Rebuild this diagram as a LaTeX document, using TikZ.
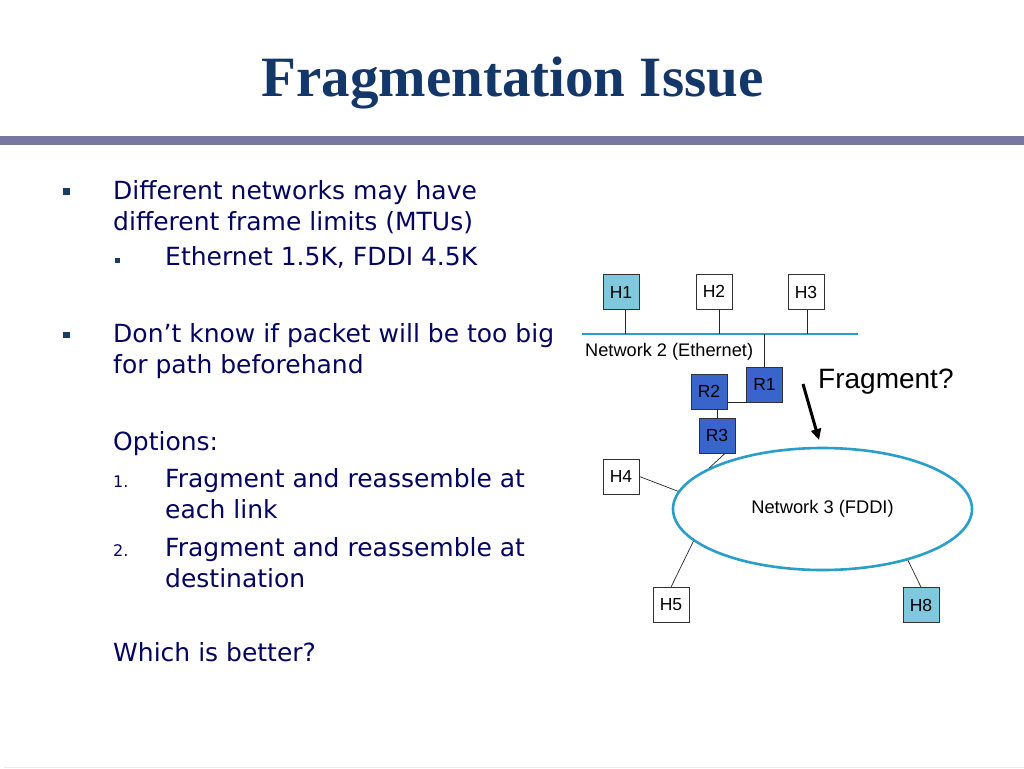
\documentclass[tikz,border=0pt]{standalone}
\usepackage{fontspec}
\setmainfont{Liberation Serif}
\newfontfamily\bodyf{DejaVu Sans}
\newfontfamily\arialf{Liberation Sans}
\usetikzlibrary{shapes.geometric,arrows.meta}
\definecolor{titleblue}{RGB}{20,55,105}
\definecolor{barcol}{RGB}{119,119,159}
\definecolor{navytext}{RGB}{5,5,95}
\definecolor{bulletc}{RGB}{25,60,95}
\definecolor{hostblue}{RGB}{128,200,222}
\definecolor{routerblue}{RGB}{56,100,204}
\definecolor{netcyan}{RGB}{40,158,200}
\definecolor{boxline}{RGB}{50,50,50}
\begin{document}
\begin{tikzpicture}[x=1pt,y=-1pt,
  bodytext/.style={anchor=base west, inner sep=0, text=navytext, font=\bodyf\fontsize{25}{25}\selectfont},
  numtext/.style={anchor=base west, inner sep=0, text=navytext, font=\bodyf\fontsize{16}{16}\selectfont},
  bulletsq/.style={fill=bulletc, minimum size=6.5pt, inner sep=0},
  subbulletsq/.style={fill=bulletc, minimum size=5pt, inner sep=0},
  hostbox/.style={draw=boxline, line width=0.8pt, minimum width=36pt, minimum height=35pt, inner sep=0, font=\arialf\fontsize{17.5}{17.5}\selectfont},
  hosthi/.style={hostbox, fill=hostblue},
  routerbox/.style={hostbox, fill=routerblue},
  linkline/.style={draw=black!85, line width=0.7pt},
  netline/.style={draw=netcyan, line width=2.6pt}
]
\useasboundingbox (0,0) rectangle (1024,768);
\fill[white] (0,0) rectangle (1024,768);
% title and bar
\node[anchor=base, inner sep=0, text=titleblue, font=\bfseries\fontsize{57}{57}\selectfont] (title) at (512.5,96) {Fragmentation Issue};
\fill[barcol] (0,136) rectangle (1024,145);
\draw[black!8, line width=1pt] (4,767.5) -- (1024,767.5);

% left text
\node[bulletsq] (b1) at (66.5,191.5) {};
\node[bodytext] (t1) at (113,199) {Different networks may have};
\node[bodytext] (t2) at (113,230) {different frame limits (MTUs)};
\node[subbulletsq] (b2) at (117.5,260) {};
\node[bodytext] (t3) at (165,265) {Ethernet 1.5K, FDDI 4.5K};
\node[bulletsq] (b3) at (66.5,335) {};
\node[bodytext] (t4) at (113,342) {Don’t know if packet will be too big};
\node[bodytext] (t5) at (113,373) {for path beforehand};
\node[bodytext] (t6) at (113,450) {Options:};
\node[numtext] (n1) at (113,487) {1.};
\node[bodytext] (t7) at (165,487) {Fragment and reassemble at};
\node[bodytext] (t8) at (165,518) {each link};
\node[numtext] (n2) at (113,556) {2.};
\node[bodytext] (t9) at (165,556) {Fragment and reassemble at};
\node[bodytext] (t10) at (165,587) {destination};
\node[bodytext] (t11) at (113,661) {Which is better?};

% network 2
\coordinate (ethW) at (582,334);
\coordinate (ethE) at (858,334);
\draw[netline] (ethW) -- (ethE);
\node[hosthi] (H1) at (621,292) {H1};
\node[hostbox] (H2) at (714,291.5) {H2};
\node[hostbox] (H3) at (806,292) {H3};
\draw[linkline] ([xshift=4pt]H1.south) -- ([xshift=4pt]H1.south |- ethW);
\draw[linkline] ([xshift=5pt]H2.south) -- ([xshift=5pt]H2.south |- ethW);
\draw[linkline] ([xshift=1pt]H3.south) -- ([xshift=1pt]H3.south |- ethW);
\node[anchor=base west, inner sep=0, font=\arialf\fontsize{18.2}{18.2}\selectfont] (net2) at (585,356) {Network 2 (Ethernet)};

% routers
\node[routerbox] (R1) at (764.5,384.5) {R1};
\node[routerbox] (R2) at (709,391.5) {R2};
\node[routerbox] (R3) at (717,435.5) {R3};
\draw[linkline] (R1.north) -- (R1.north |- ethW);
\draw[linkline] (R2.east |- R1.south west) -- (R1.south west);
\draw[linkline] (R3.north |- R2.south) -- (R3.north);

% network 3
\node[ellipse, netline, minimum width=299pt, minimum height=122pt, inner sep=0, font=\arialf\fontsize{18.3}{18.3}\selectfont] (net3) at (822.5,509) {Network 3 (FDDI)};
\node[hostbox] (H4) at (621,476.5) {H4};
\node[hostbox] (H5) at (671,605) {H5};
\node[hosthi] (H8) at (921,605) {H8};
\draw[linkline] ([xshift=8pt]R3.south) -- (net3.160.7);
\draw[linkline] (H4.east) -- (net3.173.4);
\draw[linkline] (net3.194.5) -- (H5.north);
\draw[linkline] (net3.329.8) -- (H8.north);

% fragment annotation
\node[anchor=base west, inner sep=0, font=\arialf\fontsize{28}{28}\selectfont] (frag) at (818,388) {Fragment?};
\coordinate (fa) at (803,384);
\coordinate (fb) at (819,440);
\draw[line width=3pt, -{Triangle[length=11pt,width=10pt]}] (fa) -- (fb);
\end{tikzpicture}
\end{document}
